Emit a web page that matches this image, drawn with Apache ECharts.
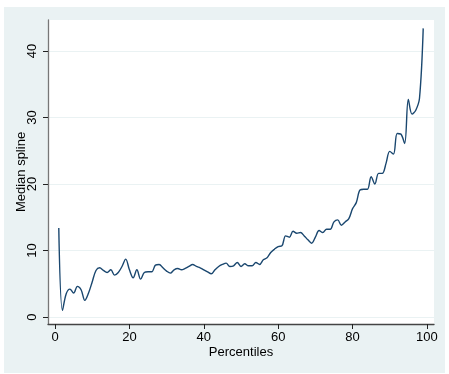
<!DOCTYPE html>
<html>
<head>
<meta charset="utf-8">
<script src="https://cdn.jsdelivr.net/npm/echarts@6/dist/echarts.min.js"></script>
<style>
  html, body { margin: 0; padding: 0; background: #ffffff; }
  #chart { width: 449px; height: 374px; }
</style>
</head>
<body>
<div id="chart"></div>
<script>
// Percentile positions and the median spline value at each one
const percentiles = [
  1, 2, 3, 4, 5, 6, 7, 8, 9, 10,
  11, 12, 13, 14, 15, 16, 17, 18, 19, 20,
  21, 22, 23, 24, 25, 26, 27, 28, 29, 30,
  31, 32, 33, 34, 35, 36, 37, 38, 39, 40,
  41, 42, 43, 44, 45, 46, 47, 48, 49, 50,
  51, 52, 53, 54, 55, 56, 57, 58, 59, 60,
  61, 62, 63, 64, 65, 66, 67, 68, 69, 70,
  71, 72, 73, 74, 75, 76, 77, 78, 79, 80,
  81, 82, 83, 84, 85, 86, 87, 88, 89, 90,
  91, 92, 93, 94, 95, 96, 97, 98, 99
];
const medianSpline = [
  13.4, 1.0, 3.5, 4.2, 3.6, 4.6, 4.1, 2.5, 3.6, 5.3,
  7.0, 7.4, 7.0, 6.7, 7.1, 6.3, 6.7, 7.6, 8.7, 7.1,
  5.9, 7.1, 5.7, 6.7, 6.8, 6.8, 7.8, 7.9, 7.4, 6.9,
  6.6, 7.1, 7.3, 7.1, 7.3, 7.6, 7.9, 7.6, 7.4, 7.1,
  6.8, 6.5, 7.1, 7.6, 7.9, 8.1, 7.6, 7.7, 8.2, 7.6,
  8.0, 7.7, 7.7, 8.2, 7.9, 8.6, 8.9, 9.7, 10.2, 10.6,
  10.7, 12.2, 12.0, 12.9, 12.6, 12.7, 12.2, 11.6, 11.1, 12.0,
  13.0, 12.7, 13.2, 13.2, 14.3, 14.6, 13.8, 14.3, 14.8, 16.3,
  17.2, 19.1, 19.2, 19.2, 21.1, 20.0, 21.6, 21.6, 23.1, 24.9,
  24.5, 27.6, 27.5, 26.1, 32.7, 30.5, 31.1, 32.9, 43.4
];
// Tick labels
const xTicks = [0, 20, 40, 60, 80, 100];
const yTicks = [0, 10, 20, 30, 40];

const points = percentiles.map((p, i) => [p, medianSpline[i]]);

const chart = echarts.init(document.getElementById('chart'), null, { renderer: 'canvas' });
const font = 'Liberation Sans, Arial, sans-serif';

chart.setOption({
  animation: false,
  backgroundColor: '#ffffff',
  graphic: [{
    type: 'rect',
    z: -10,
    silent: true,
    shape: { x: 4, y: 7, width: 441, height: 366 },
    style: { fill: '#eaf2f3' }
  }],
  grid: {
    left: 48, top: 20, width: 386, height: 304,
    show: true, backgroundColor: '#ffffff', borderWidth: 0
  },
  xAxis: {
    type: 'value',
    min: -1.9, max: 101.9,
    name: 'Percentiles',
    nameLocation: 'middle',
    nameGap: 22,
    nameMoveOverlap: false,
    nameTextStyle: { color: '#000', fontSize: 13, fontFamily: font },
    axisLine: { show: true, onZero: false, lineStyle: { color: '#444', width: 1.3 } },
    axisTick: { show: true, length: 5, customValues: xTicks, lineStyle: { color: '#222', width: 1 } },
    axisLabel: { customValues: xTicks, color: '#000', fontSize: 13, fontFamily: font, margin: 7 },
    splitLine: { show: false }
  },
  yAxis: {
    type: 'value',
    min: -1.05, max: 44.66,
    name: 'Median spline',
    nameLocation: 'middle',
    nameGap: 20,
    nameMoveOverlap: false,
    nameRotate: 90,
    nameTextStyle: { color: '#000', fontSize: 13, fontFamily: font },
    axisLine: { show: true, onZero: false, lineStyle: { color: '#777', width: 1.3 } },
    axisTick: { show: true, length: 5, customValues: yTicks, lineStyle: { color: '#222', width: 1 } },
    axisLabel: { customValues: yTicks, rotate: 90, color: '#000', fontSize: 13, fontFamily: font, margin: 9 },
    splitLine: { show: true, lineStyle: { color: '#eaf2f3', width: 1.2 } }
  },
  series: [{
    type: 'line',
    data: points,
    smooth: 0.35,
    showSymbol: false,
    lineStyle: { color: '#1a476f', width: 1.4 },
    z: 3
  }]
});
</script>
</body>
</html>
